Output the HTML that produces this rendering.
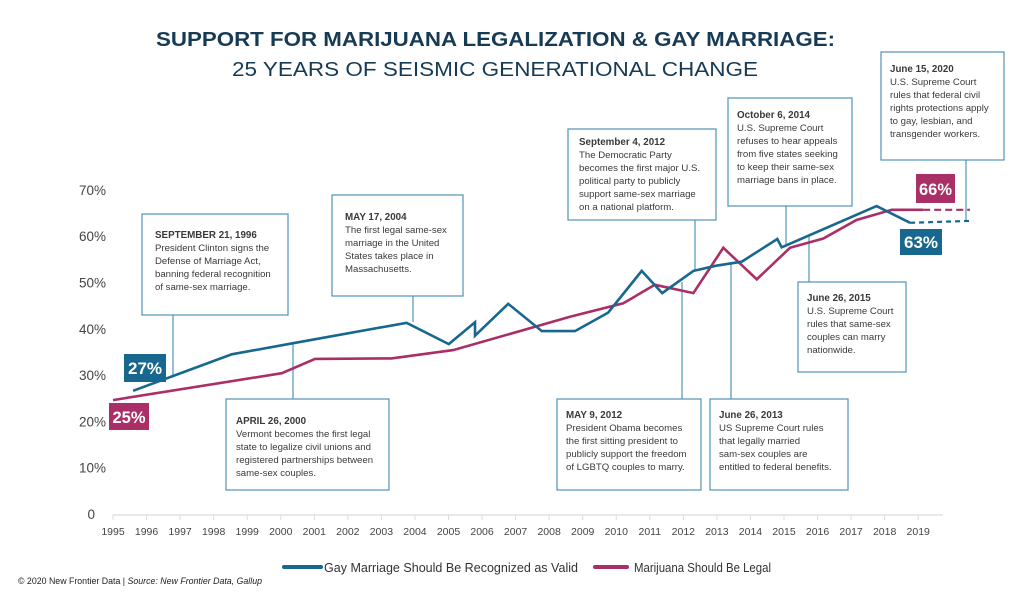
<!DOCTYPE html>
<html><head><meta charset="utf-8">
<style>
html,body{margin:0;padding:0;background:#fff;}
svg{display:block;font-family:"Liberation Sans",sans-serif;}
.ann{font-size:9.6px;fill:#3a3a3a;}
.annb{font-size:9.8px;font-weight:bold;fill:#3a3a3a;}
.box{fill:#fff;stroke:#4f93b8;stroke-width:1.2;}
.conn{stroke:#4f93b8;stroke-width:1.2;}
</style></head>
<body>
<svg id="chart" width="1024" height="606" viewBox="0 0 1024 606" xmlns="http://www.w3.org/2000/svg">
<text x="156" y="46" font-size="20" font-weight="bold" fill="#173a55" textLength="679" lengthAdjust="spacingAndGlyphs">SUPPORT FOR MARIJUANA LEGALIZATION &amp; GAY MARRIAGE:</text>
<text x="232" y="76" font-size="20" fill="#173a55" textLength="526" lengthAdjust="spacingAndGlyphs">25 YEARS OF SEISMIC GENERATIONAL CHANGE</text>
<g id="axes"></g>
<g id="conns"></g>
<g id="series"></g>
<g id="anns"></g>
<g>
<rect x="124" y="354" width="42" height="28" fill="#17678f"/>
<text x="145" y="374" font-size="17" font-weight="bold" fill="#fff" text-anchor="middle" textLength="34" lengthAdjust="spacingAndGlyphs">27%</text>
<rect x="109" y="403" width="40" height="27" fill="#a92f66"/>
<text x="129" y="423" font-size="17" font-weight="bold" fill="#fff" text-anchor="middle" textLength="33" lengthAdjust="spacingAndGlyphs">25%</text>
<rect x="916" y="174" width="39" height="29" fill="#a92f66"/>
<text x="935.5" y="195" font-size="17" font-weight="bold" fill="#fff" text-anchor="middle" textLength="33" lengthAdjust="spacingAndGlyphs">66%</text>
<rect x="900" y="229" width="42" height="26" fill="#17678f"/>
<text x="921" y="248" font-size="17" font-weight="bold" fill="#fff" text-anchor="middle" textLength="34" lengthAdjust="spacingAndGlyphs">63%</text>
</g>
<g>
<line x1="284" y1="567" x2="321" y2="567" stroke="#17678f" stroke-width="4" stroke-linecap="round"/>
<text x="324" y="572" font-size="13" fill="#333" textLength="254" lengthAdjust="spacingAndGlyphs">Gay Marriage Should Be Recognized as Valid</text>
<line x1="595" y1="567" x2="627" y2="567" stroke="#a92f66" stroke-width="4" stroke-linecap="round"/>
<text x="634" y="572" font-size="13" fill="#333" textLength="137" lengthAdjust="spacingAndGlyphs">Marijuana Should Be Legal</text>
</g>
<text x="18" y="584" font-size="9" fill="#222" textLength="244" lengthAdjust="spacingAndGlyphs">© 2020  New Frontier Data | <tspan font-style="italic">Source: New Frontier Data, Gallup</tspan></text>
</svg>
<script>
const xYears=[1995,1996,1997,1998,1999,2000,2001,2002,2003,2004,2005,2006,2007,2008,2009,2010,2011,2012,2013,2014,2015,2016,2017,2018,2019];
const yTicks=[0,10,20,30,40,50,60,70];
const gayYears=[1995.6,1996.75,1998.54,2000.37,2003.75,2005.01,2005.79,2005.79,2006.78,2007.78,2008.77,2009.76,2010.76,2011.37,2012.3,2012.96,2013.74,2014.8,2014.93,2017.76,2018.76];
const gayValues=[26.6,29.7,34.5,36.9,41.3,36.7,41.4,38.5,45.4,39.5,39.5,43.5,52.5,47.7,52.5,53.6,54.5,59.4,57.6,66.5,62.9];
const gayProjYears=[2018.76,2020.54];
const gayProjValues=[62.9,63.3];
const marYears=[1995.0,2000.03,2001.02,2003.3,2005.14,2008.62,2010.21,2011.15,2012.3,2013.19,2014.19,2015.18,2016.17,2017.16,2018.21,2019.15];
const marValues=[24.6,30.4,33.5,33.6,35.4,42.6,45.5,49.5,47.7,57.5,50.7,57.5,59.5,63.5,65.7,65.7];
const marProjYears=[2019.15,2020.54];
const marProjValues=[65.7,65.7];

const NS="http://www.w3.org/2000/svg";
const X=y=>113+(y-1995)*33.55;
const Y=v=>514-v*4.63;
function mk(tag,attrs,parent,text){const e=document.createElementNS(NS,tag);for(const k in attrs)e.setAttribute(k,attrs[k]);if(text!=null)e.textContent=text;parent.appendChild(e);return e;}
const axes=document.getElementById('axes');
const xl=mk('line',{x1:113,y1:515,x2:943,y2:515,stroke:'#dcdcdc','stroke-width':1.2},axes);


xYears.forEach(yr=>{
  const t=mk('line',{x1:X(yr),y1:515,x2:X(yr),y2:520,stroke:'#dcdcdc','stroke-width':1},axes);
  
  
  const l=mk('text',{x:X(yr),y:535,'font-size':10.5,fill:'#444','text-anchor':'middle'},axes,String(yr));
  
  
});
yTicks.forEach(v=>{
  const l=mk('text',{x:v===0?95:106,y:Y(v)+5,'font-size':13.5,fill:'#444','text-anchor':'end'},axes,v===0?'0':v+'%');
  
  
});
const series=document.getElementById('series');
function pts(xs,vs){return xs.map((x,i)=>X(x).toFixed(1)+','+Y(vs[i]).toFixed(1)).join(' ');}
const mp=mk('polyline',{points:pts(marYears,marValues),fill:'none',stroke:'#a92f66','stroke-width':2.6,'stroke-linejoin':'miter'},series);


const md=mk('polyline',{points:pts(marProjYears,marProjValues),fill:'none',stroke:'#a92f66','stroke-width':2.2,'stroke-dasharray':'7,4'},series);


const gp=mk('polyline',{points:pts(gayYears,gayValues),fill:'none',stroke:'#17678f','stroke-width':2.6,'stroke-linejoin':'miter'},series);


const gd=mk('polyline',{points:pts(gayProjYears,gayProjValues),fill:'none',stroke:'#17678f','stroke-width':2.2,'stroke-dasharray':'5,4'},series);



const conns=[[173,315,173,377],[413,296,413,322],[293,343,293,399],[695,220,695,270],[786,206,786,244],[966,160,966,221],[809,237,809,282],[682,282,682,399],[731,262,731,399]];
const cg=document.getElementById('conns');
conns.forEach(c=>{
  const l=mk('line',{x1:c[0],y1:c[1],x2:c[2],y2:c[3],class:'conn'},cg);
  
  
});
// x, y, w, h, title, lines, name, text-left-pad, first-baseline offset
const anns=[
 [142,214,146,101,'SEPTEMBER 21, 1996',['President Clinton signs the','Defense of Marriage Act,','banning federal recognition','of same-sex marriage.'],'annotation-1996',13,24],
 [332,195,131,101,'MAY 17, 2004',['The first legal same-sex','marriage in the United','States takes place in','Massachusetts.'],'annotation-2004',13,25],
 [226,399,163,91,'APRIL 26, 2000',['Vermont becomes the first legal','state to legalize civil unions and','registered partnerships between','same-sex couples.'],'annotation-2000',10,25],
 [568,129,148,91,'September 4, 2012',['The Democratic Party','becomes the first major U.S.','political party to publicly','support same-sex marriage','on a national platform.'],'annotation-2012-sep',11,16],
 [728,98,124,108,'October 6, 2014',['U.S. Supreme Court','refuses to hear appeals','from five states seeking','to keep their same-sex','marriage bans in place.'],'annotation-2014',9,20],
 [881,52,123,108,'June 15, 2020',['U.S. Supreme Court','rules that federal civil','rights protections apply','to gay, lesbian, and','transgender workers.'],'annotation-2020',9,20],
 [798,282,108,90,'June 26, 2015',['U.S. Supreme Court','rules that same-sex','couples can marry','nationwide.'],'annotation-2015',9,19],
 [557,399,144,91,'MAY 9, 2012',['President Obama becomes','the first sitting president to','publicly support the freedom','of LGBTQ couples to marry.'],'annotation-2012-may',9,19],
 [710,399,138,91,'June 26, 2013',['US Supreme Court rules','that legally married','sam-sex couples are','entitled to federal benefits.'],'annotation-2013',9,19]
];
const ag=document.getElementById('anns');
anns.forEach(a=>{
  const g=mk('g',{},ag);
  
  
  mk('rect',{x:a[0],y:a[1],width:a[2],height:a[3],class:'box'},g);
  const tx=a[0]+a[7];
  let ty=a[1]+a[8];
  mk('text',{x:tx,y:ty,class:'annb'},g,a[4]);
  a[5].forEach(s=>{ty+=13;mk('text',{x:tx,y:ty,class:'ann'},g,s);});
});
</script>
</body></html>
